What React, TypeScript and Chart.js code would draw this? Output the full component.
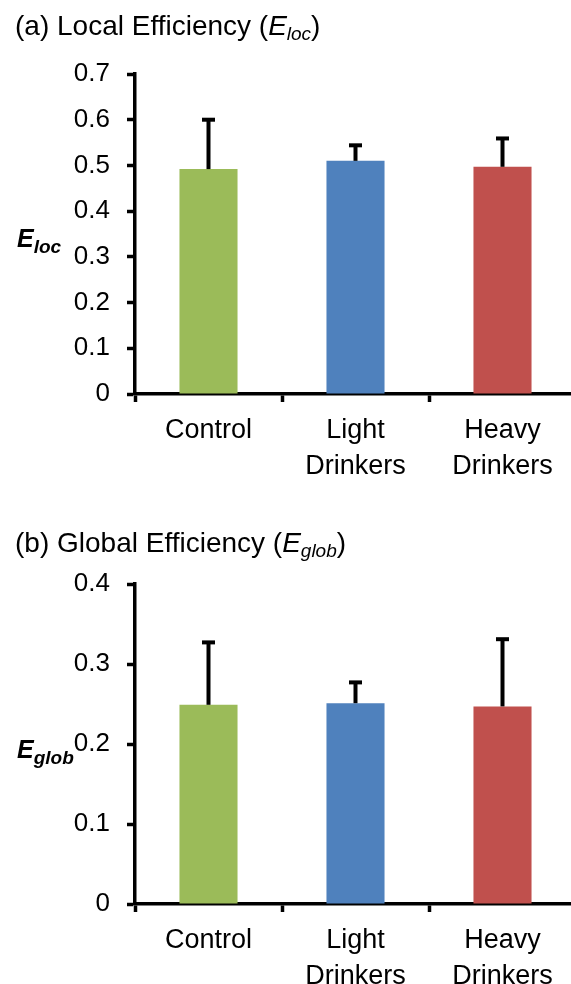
import React, { useEffect, useRef } from "react";
import { Chart, registerables } from "chart.js";

Chart.register(...registerables);

const FONT = "'Liberation Sans', Arial, sans-serif";

const categories = [["Control"], ["Light", "Drinkers"], ["Heavy", "Drinkers"]];
const barColors = ["#9BBB59", "#4F81BD", "#C0504D"];

const locValues = [0.492, 0.51, 0.497];
const locErrors = [0.108, 0.034, 0.062];
const locTicks = [0, 0.1, 0.2, 0.3, 0.4, 0.5, 0.6, 0.7];
const locTickLabels = ["0", "0.1", "0.2", "0.3", "0.4", "0.5", "0.6", "0.7"];

const globValues = [0.249, 0.251, 0.247];
const globErrors = [0.078, 0.026, 0.084];
const globTicks = [0, 0.1, 0.2, 0.3, 0.4];
const globTickLabels = ["0", "0.1", "0.2", "0.3", "0.4"];

type Seg = { t: string; f: string; dy?: number };

const titleA: Seg[] = [
  { t: "(a) Local Efficiency (", f: `28px ${FONT}` },
  { t: "E", f: `italic 28px ${FONT}` },
  { t: "loc", f: `italic 19px ${FONT}`, dy: 5 },
  { t: ")", f: `28px ${FONT}` },
];
const titleB: Seg[] = [
  { t: "(b) Global Efficiency (", f: `28px ${FONT}` },
  { t: "E", f: `italic 28px ${FONT}` },
  { t: "glob", f: `italic 19px ${FONT}`, dy: 5 },
  { t: ")", f: `28px ${FONT}` },
];
const yTitleA: Seg[] = [
  { t: "E", f: `italic bold 25px ${FONT}` },
  { t: "loc", f: `italic bold 19px ${FONT}`, dy: 6 },
];
const yTitleB: Seg[] = [
  { t: "E", f: `italic bold 25px ${FONT}` },
  { t: "glob", f: `italic bold 19px ${FONT}`, dy: 6 },
];

function drawSegs(ctx: CanvasRenderingContext2D, segs: Seg[], x: number, y: number) {
  let cx = x;
  ctx.textBaseline = "alphabetic";
  ctx.textAlign = "left";
  ctx.fillStyle = "#000";
  for (const s of segs) {
    ctx.font = s.f;
    ctx.fillText(s.t, cx, y + (s.dy || 0));
    cx += ctx.measureText(s.t).width;
  }
}

const errorBarPlugin = {
  id: "errbars",
  afterDatasetsDraw(chart: any, _args: any, opts: any) {
    const meta = chart.getDatasetMeta(0);
    const y = chart.scales.y;
    const ctx = chart.ctx as CanvasRenderingContext2D;
    const values: number[] = opts.values;
    const errors: number[] = opts.errors;
    ctx.save();
    ctx.strokeStyle = "#000";
    ctx.lineWidth = 4;
    meta.data.forEach((el: any, i: number) => {
      const yBase = y.getPixelForValue(values[i]);
      const yTop = y.getPixelForValue(values[i] + errors[i]);
      ctx.beginPath();
      ctx.moveTo(el.x, yBase);
      ctx.lineTo(el.x, yTop);
      ctx.stroke();
      ctx.beginPath();
      ctx.moveTo(el.x - 6.5, yTop);
      ctx.lineTo(el.x + 6.5, yTop);
      ctx.stroke();
    });
    ctx.restore();
  },
};

const textPlugin = {
  id: "texts",
  afterDraw(chart: any, _args: any, opts: any) {
    const ctx = chart.ctx as CanvasRenderingContext2D;
    ctx.save();
    drawSegs(ctx, opts.title, opts.titleX, opts.titleY);
    drawSegs(ctx, opts.yTitle, opts.yTitleX, opts.yTitleY);
    ctx.restore();
  },
};

type PanelProps = {
  values: number[];
  errors: number[];
  ticks: number[];
  tickLabels: string[];
  max: number;
  title: Seg[];
  yTitle: Seg[];
  width: number;
  height: number;
  top: number;
  padTop: number;
  padBottom: number;
  axisH: number;
  titleY: number;
  yTitleY: number;
};

function Panel(p: PanelProps) {
  const ref = useRef<HTMLCanvasElement>(null);
  useEffect(() => {
    if (!ref.current) return;
    const axisCommon = {
      grid: {
        display: true,
        drawOnChartArea: false,
        drawTicks: true,
        tickLength: 8,
        tickWidth: 3.5,
        tickColor: "#000",
      },
      border: { display: true, color: "#000", width: 3.5 },
    };
    const chart = new Chart(ref.current, {
      type: "bar",
      data: {
        labels: categories as any,
        datasets: [
          {
            data: p.values,
            backgroundColor: barColors,
            borderWidth: 0,
            barPercentage: 0.395,
            categoryPercentage: 1,
          },
        ],
      },
      plugins: [errorBarPlugin, textPlugin],
      options: {
        responsive: false,
        maintainAspectRatio: false,
        animation: false,
        devicePixelRatio: 1,
        layout: { padding: { top: p.padTop, right: 24, bottom: p.padBottom, left: 0 } },
        plugins: {
          legend: { display: false },
          tooltip: { enabled: false },
          errbars: { values: p.values, errors: p.errors },
          texts: {
            title: p.title,
            titleX: 15,
            titleY: p.titleY,
            yTitle: p.yTitle,
            yTitleX: 17,
            yTitleY: p.yTitleY,
          },
        } as any,
        scales: {
          x: {
            ...axisCommon,
            grid: { ...axisCommon.grid, offset: true },
            ticks: {
              color: "#000",
              font: { family: FONT, size: 27, lineHeight: 36 / 27 },
              padding: 11,
              maxRotation: 0,
              autoSkip: false,
            },
            afterFit: (s: any) => {
              s.height = p.axisH;
            },
          } as any,
          y: {
            ...axisCommon,
            min: 0,
            max: p.max,
            afterBuildTicks: (s: any) => {
              s.ticks = p.ticks.map((v) => ({ value: v }));
            },
            ticks: {
              color: "#000",
              font: { family: FONT, size: 26 },
              padding: 17,
              callback: (_v: any, i: number) => p.tickLabels[i],
            },
            afterFit: (s: any) => {
              s.width = 135;
            },
          } as any,
        },
      },
    });
    return () => chart.destroy();
  }, []);
  return (
    <canvas
      ref={ref}
      width={p.width}
      height={p.height}
      style={{ position: "absolute", left: 0, top: p.top, width: p.width, height: p.height }}
    />
  );
}

export default function App() {
  return (
    <div
      style={{
        position: "absolute",
        left: 0,
        top: 0,
        width: 571,
        height: 984,
        overflow: "hidden",
        background: "#fff",
      }}
    >
      <Panel
        values={locValues}
        errors={locErrors}
        ticks={locTicks}
        tickLabels={locTickLabels}
        max={0.7}
        title={titleA}
        yTitle={yTitleA}
        width={600}
        height={496}
        top={0}
        padTop={74}
        padBottom={2}
        axisH={100}
        titleY={35}
        yTitleY={247}
      />
      <Panel
        values={globValues}
        errors={globErrors}
        ticks={globTicks}
        tickLabels={globTickLabels}
        max={0.4}
        title={titleB}
        yTitle={yTitleB}
        width={600}
        height={488}
        top={496}
        padTop={88}
        padBottom={0}
        axisH={80}
        titleY={56}
        yTitleY={262}
      />
    </div>
  );
}
